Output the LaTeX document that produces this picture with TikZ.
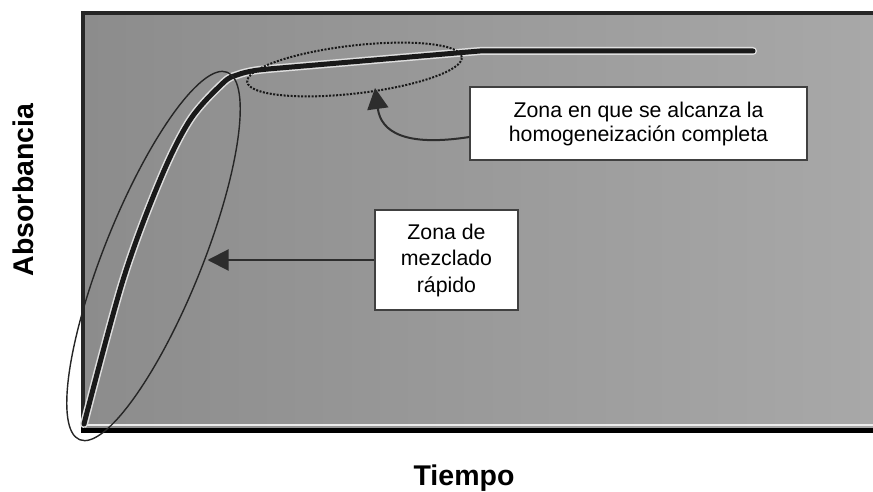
\documentclass[tikz,border=0pt]{standalone}
\usepackage{fontspec}
\setmainfont{Liberation Sans}
\usetikzlibrary{shapes.geometric, arrows.meta}
\definecolor{plotL}{RGB}{140,140,140}
\definecolor{plotR}{RGB}{168,168,168}
\definecolor{frameC}{RGB}{38,38,38}
\definecolor{arrC}{RGB}{45,45,45}
\begin{document}
\begin{tikzpicture}[x=1pt,y=1pt,
  lbl/.style={draw=black!75, line width=1.2pt, fill=white, align=center, inner sep=0pt},
  axlbl/.style={font=\fontsize{28.5}{34}\selectfont\bfseries},
  callout/.style={draw=arrC, line width=2pt, -{Triangle[length=21pt,width=21pt]}},
  zone/.style={ellipse, inner sep=0pt},
  halo/.style={draw=white!75!gray, line width=8pt, line join=round, line cap=round},
  curveline/.style={draw=black!90, line width=5pt, line join=round, line cap=round},
]
\useasboundingbox (0,0) rectangle (873,-492);
% plot area
\shade[left color=plotL, right color=plotR] (83,-13) rectangle (873,-427);
\draw[white!85!gray, line width=2pt] (84,-425) -- (873,-425);
\draw[frameC, line width=4pt] (81,-13) -- (873,-13);
\draw[frameC, line width=3.5pt] (83,-11) -- (83,-431);
\draw[black, line width=5pt] (81,-430) -- (873,-430);

% curve
\path[halo] plot[smooth, tension=0.55] coordinates {(84,-424) (123,-280) (160,-180) (190,-120) (223,-83) (237,-75) (255,-70.5) (280,-68)} -- (480,-51) -- (753,-51);
\path[curveline] plot[smooth, tension=0.55] coordinates {(84,-424) (123,-280) (160,-180) (190,-120) (223,-83) (237,-75) (255,-70.5) (280,-68)} -- (480,-51) -- (753,-51);

% zones
\node[zone, draw=black!85, line width=1.4pt, rotate=68.1, minimum width=396pt, minimum height=98pt] (e1) at (153.5,-256) {};
\node[zone, draw=black!90, line width=2pt, dash pattern=on 2pt off 1.5pt, rotate=6.6, minimum width=216pt, minimum height=48pt] (e2) at (354.5,-69.5) {};

% labels
\node[lbl, font=\fontsize{21.3}{24}\selectfont, minimum width=337pt, minimum height=73pt] (box1) at (638.5,-123.5) {Zona en que se alcanza la\\homogeneización completa};
\node[lbl, font=\fontsize{21.3}{26.5}\selectfont, minimum width=143pt, minimum height=100pt] (box2) at (446.5,-260) {Zona de\\mezclado\\rápido};

% callout arrows
\coordinate (tip1) at (375,-88);
\coordinate (tip2) at (207.5,-260);
\draw[callout] ([yshift=-13.5pt]box1.west) .. controls (405,-147) and (381,-132) .. (tip1);
\draw[callout] (box2.west) -- (tip2);

% axis titles
\node[axlbl, rotate=90, anchor=base] (ylab) at (33,-190) {Absorbancia};
\node[axlbl, anchor=base] (xlab) at (464,-485) {Tiempo};
\end{tikzpicture}
\end{document}
